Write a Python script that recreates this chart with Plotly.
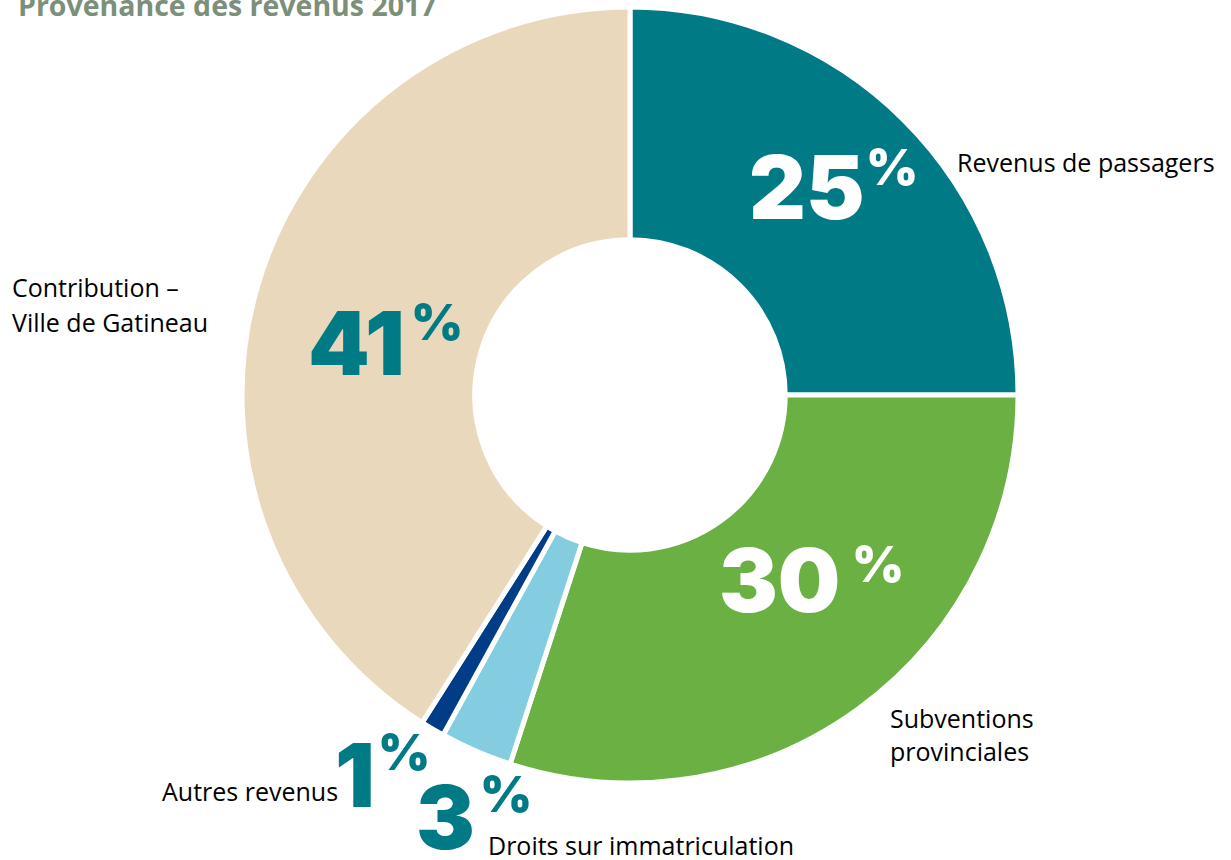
import plotly.graph_objects as go

W, H = 1231, 860

categories = ["Revenus de passagers", "Subventions provinciales", "Droits sur immatriculation",
              "Autres revenus", "Contribution – Ville de Gatineau"]
values = [25, 30, 3, 1, 41]
colors = ["#007B86", "#6AB043", "#84CDE1", "#003D86", "#E9D8BB"]
pct_labels = ["25", "30", "3", "1", "41"]

TEAL = "#007B86"
cx, cy, R = 630, 395, 388

fig = go.Figure()
fig.add_trace(go.Pie(
    labels=categories, values=values, sort=False, direction="clockwise", rotation=0,
    hole=0.4, marker=dict(colors=colors, line=dict(color="white", width=5)),
    textinfo="none", hoverinfo="label+percent", showlegend=False,
    domain=dict(x=[(cx - R) / W, (cx + R) / W], y=[1 - (cy + R) / H, 1 - (cy - R) / H]),
))

def px(x, y):
    return x / W, 1 - y / H

annots = []
def add(text, x, y, size, color="black", weight="normal", xanchor="left", family="Open Sans"):
    ax, ay = px(x, y)
    annots.append(dict(text=text, x=ax, y=ay, xref="paper", yref="paper", xanchor=xanchor,
                       yanchor="middle", showarrow=False,
                       font=dict(family=family, size=size, color=color, weight=weight)))

NUM = "Inter"
# big percentages: (num center x, y, pct center x, y, color)
num_pos = [
    (807, 187, 892, 167, "white"),
    (779, 580, 878, 564, "white"),
    (445, 817, 506, 794, TEAL),
    (355, 775, 404, 752, TEAL),
    (357, 343, 437, 322, TEAL),
]
for lab, (nx, ny, pxx, pyy, c) in zip(pct_labels, num_pos):
    add(lab, nx, ny, 88, c, 900, "center", NUM)
    add("%", pxx, pyy, 50, c, 900, "center", NUM)

# category labels
LS = 25
add("Revenus de passagers", 955, 162, LS)
add("Subventions", 888, 718, LS)
add("provinciales", 888, 751, LS)
add("Contribution –", 10, 287, LS)
add("Ville de Gatineau", 10, 322, LS)
add("Autres revenus", 340, 791, LS, xanchor="right")
add("Droits sur immatriculation", 486, 845, LS)

# title (cut off at top)
add("Provenance des revenus 2017", 16, 5, 28.5, "#7C8F7A", "bold", "left", "Open Sans")

fig.update_layout(
    width=W, height=H, margin=dict(l=0, r=0, t=0, b=0),
    paper_bgcolor="white", plot_bgcolor="white", annotations=annots,
)
fig.write_html("out.html", config={"displayModeBar": False},
               post_script="document.body.style.margin='0';")
